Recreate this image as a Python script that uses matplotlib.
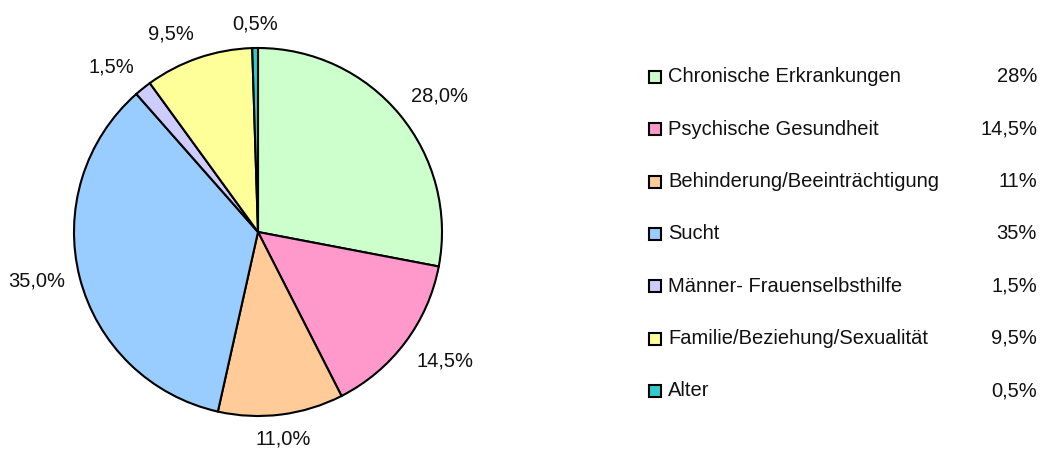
import matplotlib
matplotlib.use("Agg")
import numpy as np
import matplotlib.pyplot as plt
from matplotlib.patches import Rectangle

plt.rcParams['font.family'] = ['Liberation Sans', 'DejaVu Sans']

categories = ["Chronische Erkrankungen", "Psychische Gesundheit",
              "Behinderung/Beeinträchtigung", "Sucht",
              "Männer- Frauenselbsthilfe", "Familie/Beziehung/Sexualität",
              "Alter"]
values = [28.0, 14.5, 11.0, 35.0, 1.5, 9.5, 0.5]
legend_values = ["28%", "14,5%", "11%", "35%", "1,5%", "9,5%", "0,5%"]
colors = ["#CCFFCC", "#FF99CC", "#FFCC99", "#99CCFF", "#CCCCFF", "#FFFF99", "#33CCCC"]

FS = 14.5
W, H = 1046, 449
fig = plt.figure(figsize=(W / 100, H / 100), dpi=100)

# pie axes: centre (258, 232) px, radius 184 px
cx, cy, r = 258, 232, 184
ax = fig.add_axes([(cx - r) / W, (H - cy - r) / H, 2 * r / W, 2 * r / H])
wedges, texts, autotexts = ax.pie(
    values, colors=colors, startangle=90, counterclock=False,
    autopct=lambda p: ("%.1f%%" % p).replace(".", ","),
    pctdistance=1.08,
    wedgeprops=dict(edgecolor="black", linewidth=1.5),
    textprops=dict(fontsize=FS, color="#111111"))
ax.set_xlim(-1, 1)
ax.set_ylim(-1, 1)
ax.set_aspect("equal")
ax.axis("off")

# anchor labels outside the rim, like a spreadsheet chart
for t in autotexts:
    x, y = t.get_position()
    a = np.arctan2(y, x)
    c, s = np.cos(a), np.sin(a)
    t.set_ha("left" if c > 0.3 else ("right" if c < -0.3 else "center"))
    t.set_va("bottom" if s > 0.3 else ("top" if s < -0.3 else "center"))

# legend
lx0, lx1 = 640, 1046
ly_top, step = 77, 52.3
lax = fig.add_axes([lx0 / W, 0, (lx1 - lx0) / W, 1])
lax.set_xlim(lx0, lx1)
lax.set_ylim(H, 0)
lax.axis("off")
for i, (cat, val, col) in enumerate(zip(categories, legend_values, colors)):
    y = ly_top + i * step
    lax.add_patch(Rectangle((649, y - 6), 12, 12, facecolor=col,
                            edgecolor="black", linewidth=1.5))
    lax.text(668, y, cat, fontsize=FS, va="center", ha="left", color="#111111")
    lax.text(1037, y, val, fontsize=FS, va="center", ha="right", color="#111111")

fig.savefig("out.png", dpi=100)
